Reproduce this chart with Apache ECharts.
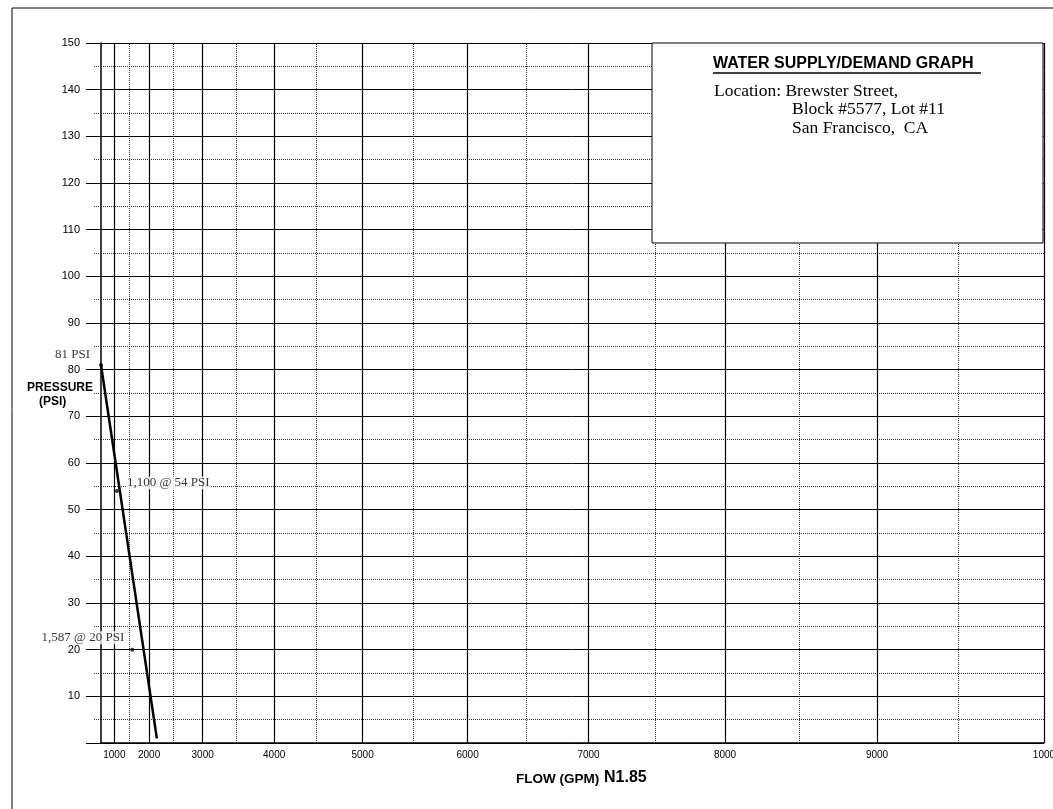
<!DOCTYPE html>
<html>
<head>
<meta charset="utf-8">
<script src="https://cdn.jsdelivr.net/npm/echarts@6/dist/echarts.min.js"></script>
<style>
  html, body { margin: 0; padding: 0; background: #fff; }
  #chart { width: 1053px; height: 809px; }
</style>
</head>
<body>
<div id="chart"></div>
<script>
// ---- data ----
const N_EXP = 1.85;
const flowMajor = [1000, 2000, 3000, 4000, 5000, 6000, 7000, 8000, 9000, 10000];
const flowMinor = [1500, 2500, 3500, 4500, 5500, 6500, 7500, 8500, 9500];
const flowTickLabels = ['1000', '2000', '3000', '4000', '5000', '6000', '7000', '8000', '9000', '1000'];
const supplyFlow = [0, 2170];
const supplyPsi = [81, 1];
const pointFlow = [0, 1100, 1587];
const pointPsi = [81, 54, 20];
const pointLabels = ['81 PSI', '1,100 @ 54 PSI', '1,587 @ 20 PSI'];
const psiMin = 0, psiMax = 150, psiStep = 10;
const flowMax = 10000;

// N^1.85 transform
const tf = q => Math.pow(q / 1000, N_EXP);

const SANS = '"Liberation Sans", Arial, sans-serif';
const SERIF = '"Liberation Serif", "Times New Roman", serif';

const chart = echarts.init(document.getElementById('chart'), null, { renderer: 'canvas' });

const labelPlacement = [
  { position: 'left', distance: 8, offset: [0, -10] },
  { position: 'right', distance: 7, offset: [0, -8] },
  { position: 'left', distance: 5, offset: [0, -12] }
];

const option = {
  animation: false,
  backgroundColor: '#fff',
  grid: { left: 101, right: 9, top: 43, bottom: 66 },
  xAxis: {
    type: 'value',
    min: 0,
    max: tf(flowMax),
    axisLine: { show: true, lineStyle: { color: '#000', width: 1.5 } },
    axisTick: { show: false },
    axisLabel: { show: false },
    splitLine: { show: false }
  },
  yAxis: {
    type: 'value',
    min: psiMin,
    max: psiMax,
    interval: psiStep,
    axisLine: { show: true, onZero: false, lineStyle: { color: '#000', width: 1.5 } },
    axisTick: { show: true, length: 15, lineStyle: { color: '#000', width: 1 } },
    minorTick: { show: true, splitNumber: 2, length: 8, lineStyle: { color: '#333', width: 1, type: 'dotted' } },
    axisLabel: {
      color: '#000', fontSize: 11, fontFamily: SANS, margin: 21,
      formatter: v => (v === 0 ? '' : String(v))
    },
    splitLine: { show: true, lineStyle: { color: '#000', width: 1 } },
    minorSplitLine: { show: true, lineStyle: { color: '#333', width: 1, type: 'dotted' } }
  },
  series: [
    {
      type: 'line',
      name: 'major',
      data: [],
      silent: true,
      markLine: {
        silent: true,
        symbol: ['none', 'none'],
        animation: false,
        lineStyle: { color: '#000', type: 'solid', width: 1.2 },
        label: {
          show: true, position: 'start', distance: 7,
          color: '#000', fontSize: 10, fontFamily: SANS
        },
        emphasis: { disabled: true },
        data: flowMajor.map((q, i) => ({
          xAxis: tf(q),
          label: { formatter: flowTickLabels[i] }
        }))
      }
    },
    {
      type: 'line',
      name: 'minor',
      data: [],
      silent: true,
      markLine: {
        silent: true,
        symbol: ['none', 'none'],
        animation: false,
        lineStyle: { color: '#333', type: 'dotted', width: 1 },
        label: { show: false },
        emphasis: { disabled: true },
        data: flowMinor.map(q => ({ xAxis: tf(q) }))
      }
    },
    {
      type: 'line',
      name: 'supply',
      symbol: 'none',
      z: 5,
      lineStyle: { color: '#000', width: 2.5 },
      data: supplyFlow.map((q, i) => [tf(q), supplyPsi[i]])
    },
    {
      type: 'scatter',
      name: 'points',
      z: 6,
      symbolSize: 4,
      itemStyle: { color: '#000' },
      data: pointFlow.map((q, i) => ({
        value: [tf(q), pointPsi[i]],
        label: {
          show: true,
          formatter: pointLabels[i],
          position: labelPlacement[i].position,
          distance: labelPlacement[i].distance,
          offset: labelPlacement[i].offset,
          color: '#000',
          fontSize: 13,
          fontFamily: SERIF,
          backgroundColor: '#fff',
          padding: [0, 1]
        }
      }))
    }
  ],
  graphic: [
    {
      type: 'polyline', z: 50, silent: true,
      shape: { points: [[12, 809], [12, 8], [1053, 8]] },
      style: { stroke: '#000', lineWidth: 1, fill: null }
    },
    {
      type: 'rect', z: 100, silent: true,
      shape: { x: 652, y: 43, width: 391, height: 200 },
      style: { fill: '#fff', stroke: '#000', lineWidth: 1 }
    },
    {
      type: 'text', z: 101, silent: true, left: 713, top: 56,
      style: { text: 'WATER SUPPLY/DEMAND GRAPH', font: 'bold 16px ' + SANS, fill: '#000' }
    },
    {
      type: 'line', z: 101, silent: true,
      shape: { x1: 713, y1: 73, x2: 981, y2: 73 },
      style: { stroke: '#000', lineWidth: 1.5 }
    },
    {
      type: 'text', z: 101, silent: true, left: 714, top: 82,
      style: { text: 'Location: Brewster Street,', font: '17.5px ' + SERIF, fill: '#000' }
    },
    {
      type: 'text', z: 101, silent: true, left: 792, top: 100,
      style: { text: 'Block #5577, Lot #11', font: '17.5px ' + SERIF, fill: '#000' }
    },
    {
      type: 'text', z: 101, silent: true, left: 792, top: 119,
      style: { text: 'San Francisco,  CA', font: '17.5px ' + SERIF, fill: '#000' }
    },
    {
      type: 'text', z: 101, silent: true, left: 27, top: 382,
      style: { text: 'PRESSURE', font: 'bold 12px ' + SANS, fill: '#000', backgroundColor: '#fff' }
    },
    {
      type: 'text', z: 101, silent: true, left: 39, top: 396,
      style: { text: '(PSI)', font: 'bold 12px ' + SANS, fill: '#000' }
    },
    {
      type: 'text', z: 101, silent: true, left: 516, top: 772,
      style: { text: 'FLOW (GPM)', font: 'bold 13.5px ' + SANS, fill: '#000' }
    },
    {
      type: 'text', z: 101, silent: true, left: 604, top: 770,
      style: { text: 'N1.85', font: 'bold 16px ' + SANS, fill: '#000' }
    }
  ]
};

chart.setOption(option);
</script>
</body>
</html>
